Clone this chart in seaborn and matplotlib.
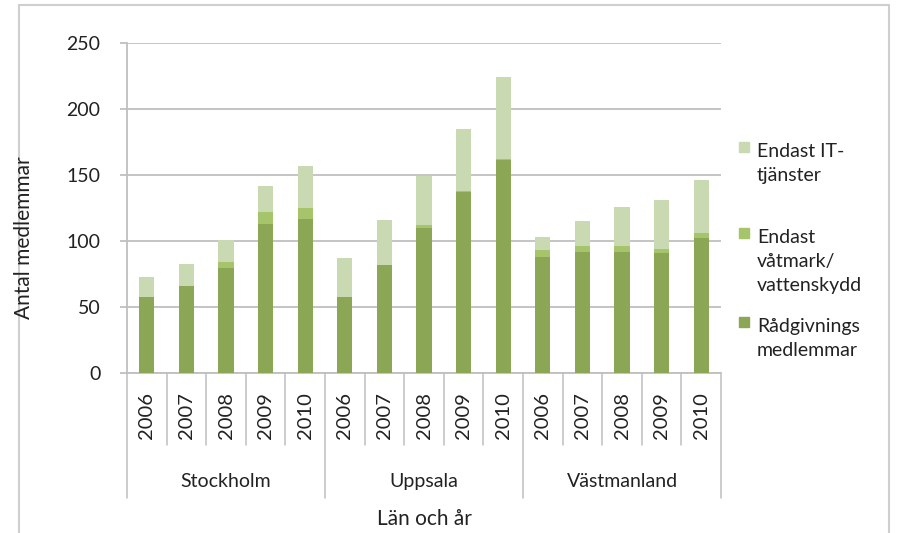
import numpy as np
import pandas as pd
import matplotlib
matplotlib.use('Agg')
import matplotlib.pyplot as plt
from matplotlib.patches import Rectangle
import seaborn as sns

# values
lan = ['Stockholm', 'Uppsala', 'Västmanland']
years = ['2006', '2007', '2008', '2009', '2010']
radgivning = [58, 66, 80, 113, 117,
              58, 82, 110, 137, 161,
              88, 92, 92, 91, 102]
vatmark = [0, 0, 4, 9, 8,
           0, 0, 2, 1, 1,
           5, 4, 4, 3, 4]
it_tjanster = [15, 17, 17, 20, 32,
               29, 34, 37, 47, 62,
               10, 19, 30, 37, 40]
legend_labels = ['Endast IT-\ntjänster', 'Endast\nvåtmark/\nvattenskydd', 'Rådgivnings\nmedlemmar']

c_dark = '#8ba756'
c_mid = '#a6c46a'
c_light = '#c9d9b1'
grid_c = '#bfbfbf'
txt_c = '#222222'

keys = [f'{l} {y}' for l in lan for y in years]
df = pd.DataFrame({'key': keys, 'rad': radgivning, 'vat': vatmark, 'it': it_tjanster})
df['lvl2'] = df['rad'] + df['vat']
df['total'] = df['lvl2'] + df['it']

sns.set_style('white')
plt.rcParams['font.family'] = ['Lato', 'DejaVu Sans']

fig = plt.figure(figsize=(8.97, 5.33), dpi=100)
ax = fig.add_axes([127 / 897, 1 - 373.3 / 533, 594 / 897, 330.6 / 533])

# stacked bars drawn as cumulative layers
for col, c in [('total', c_light), ('lvl2', c_mid), ('rad', c_dark)]:
    sns.barplot(data=df, x='key', y=col, order=keys, color=c, width=0.38,
                saturation=1, linewidth=0, ax=ax, zorder=3)

ax.set_xlim(-0.5, len(keys) - 0.5)
ax.set_ylim(0, 250)
ax.set_yticks(np.arange(0, 251, 50))
ax.yaxis.grid(True, color=grid_c, lw=1.3, zorder=0)
ax.set_xticks([])
ax.set_xlabel('')
ax.set_ylabel('')
for s in ['top', 'right', 'bottom']:
    ax.spines[s].set_visible(False)
ax.spines['left'].set_color(grid_c)
ax.spines['left'].set_linewidth(1.3)
ax.tick_params(axis='y', left=True, length=5, color=grid_c, width=1.3,
               labelsize=14, labelcolor=txt_c, pad=14)

# category axis with two levels
trans = ax.get_xaxis_transform()
ax.plot([-0.5, len(keys) - 0.5], [0, 0], color=grid_c, lw=1.3, transform=trans, clip_on=False)
for i, k in enumerate(keys):
    ax.text(i, -0.128, k.split()[-1], rotation=90, ha='center', va='center',
            fontsize=14.5, color=txt_c, transform=trans)
for b in range(len(keys) + 1):
    y0 = -0.377 if b % 5 == 0 else -0.217
    ax.plot([b - 0.5, b - 0.5], [0, y0], color=grid_c, lw=1.1, transform=trans, clip_on=False)
for g, name in enumerate(lan):
    ax.text(g * 5 + 2, -0.326, name, ha='center', va='center', fontsize=14,
            color=txt_c, transform=trans)

fig.text(424 / 897, 1 - 519 / 533, 'Län och år', ha='center', va='center', fontsize=15, color=txt_c)
fig.text(24 / 897, 1 - 238 / 533, 'Antal medlemmar', rotation=90, ha='center', va='center',
         fontsize=15, color=txt_c)

# legend on the right
for lab, c, ytop in zip(legend_labels, [c_light, c_mid, c_dark], [142, 228, 317]):
    fig.patches.append(Rectangle((739 / 897, 1 - (ytop + 10) / 533), 10 / 897, 10 / 533,
                                 transform=fig.transFigure, color=c))
    fig.text(757 / 897, 1 - (ytop + 1) / 533, lab, ha='left', va='top', fontsize=14,
             linespacing=1.5, color=txt_c)

# outer frame
fig.patches.append(Rectangle((19 / 897, -0.02), 870 / 897, 1.02 - 5 / 533, transform=fig.transFigure,
                             fill=False, ec='#cfcfcf', lw=1.5))

fig.savefig('out.png', dpi=100)
